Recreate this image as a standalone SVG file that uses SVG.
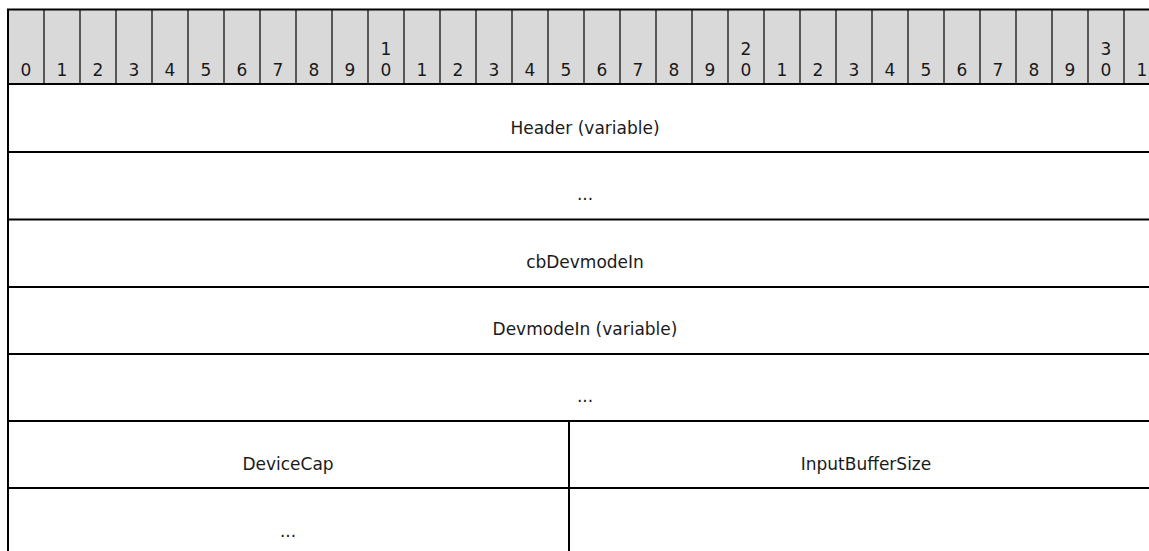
<svg xmlns="http://www.w3.org/2000/svg" width="1149" height="551" viewBox="0 0 1149 551">
<style>
.bits{font-family:"DejaVu Sans",Verdana,sans-serif;font-size:17px;fill:#1a1a1a;text-anchor:middle}
.fld{font-family:"DejaVu Sans",Verdana,sans-serif;font-size:17px;fill:#1a1a1a;text-anchor:middle}
.ln{stroke:#000;stroke-width:2;fill:none}
.thin{stroke:#000;stroke-width:1.2;fill:none}
</style>
<rect width="1149" height="551" fill="#fff"/>
<g id="bit-header">
<rect x="8" y="9.5" width="1152" height="74.5" fill="#d9d9d9"/>
<path class="thin" d="M44,10V84M80,10V84M116,10V84M152,10V84M188,10V84M224,10V84M260,10V84M296,10V84M332,10V84M368,10V84M404,10V84M440,10V84M476,10V84M512,10V84M548,10V84M584,10V84M620,10V84M656,10V84M692,10V84M728,10V84M764,10V84M800,10V84M836,10V84M872,10V84M908,10V84M944,10V84M980,10V84M1016,10V84M1052,10V84M1088,10V84M1124,10V84"/>
<g class="bits">
<text x="26" y="76">0</text><text x="62" y="76">1</text><text x="98" y="76">2</text><text x="134" y="76">3</text><text x="170" y="76">4</text><text x="206" y="76">5</text><text x="242" y="76">6</text><text x="278" y="76">7</text><text x="314" y="76">8</text><text x="350" y="76">9</text>
<text x="386" y="55">1</text><text x="386" y="76">0</text>
<text x="422" y="76">1</text><text x="458" y="76">2</text><text x="494" y="76">3</text><text x="530" y="76">4</text><text x="566" y="76">5</text><text x="602" y="76">6</text><text x="638" y="76">7</text><text x="674" y="76">8</text><text x="710" y="76">9</text>
<text x="746" y="55">2</text><text x="746" y="76">0</text>
<text x="782" y="76">1</text><text x="818" y="76">2</text><text x="854" y="76">3</text><text x="890" y="76">4</text><text x="926" y="76">5</text><text x="962" y="76">6</text><text x="998" y="76">7</text><text x="1034" y="76">8</text><text x="1070" y="76">9</text>
<text x="1106" y="55">3</text><text x="1106" y="76">0</text>
<text x="1142" y="76">1</text>
</g>
</g>
<g id="connectors">
<path class="ln" d="M7,9.5H1160M8,9V551M8,84H1160M8,152H1160M8,219.5H1160M8,287H1160M8,354H1160M8,421H1160M8,488H1160M569,421V551"/>
</g>
<g id="header-field"><text class="fld" x="585" y="134">Header (variable)</text></g>
<g id="header-cont"><text class="fld" x="585" y="200">...</text></g>
<g id="cbDevmodeIn"><text class="fld" x="585" y="268">cbDevmodeIn</text></g>
<g id="DevmodeIn"><text class="fld" x="585" y="335">DevmodeIn (variable)</text></g>
<g id="devmode-cont"><text class="fld" x="585" y="402">...</text></g>
<g id="DeviceCap"><text class="fld" x="288" y="470">DeviceCap</text></g>
<g id="InputBufferSize"><text class="fld" x="866" y="470">InputBufferSize</text></g>
<g id="devicecap-cont"><text class="fld" x="288" y="537">...</text></g>
</svg>
